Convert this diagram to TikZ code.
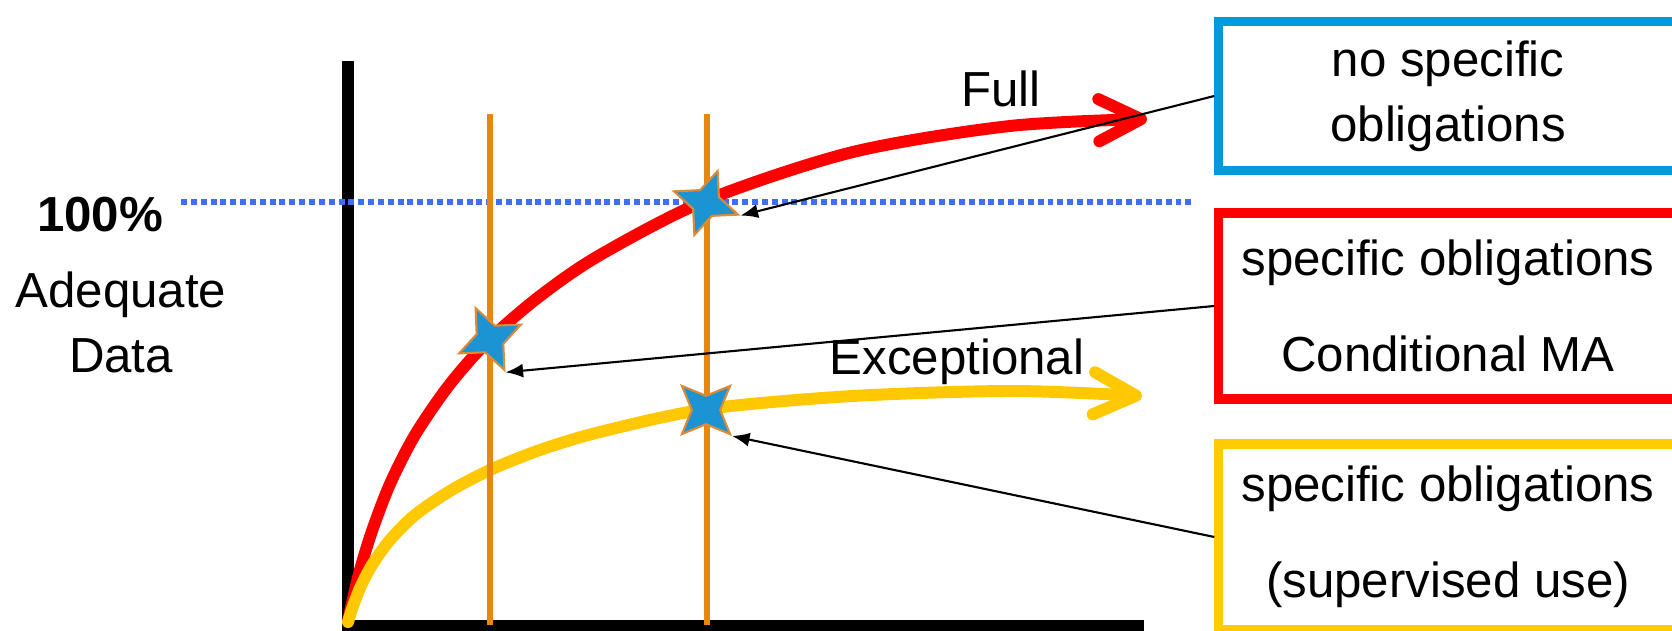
\documentclass[tikz,border=0pt]{standalone}
\usepackage{fontspec}
\setmainfont{Liberation Sans}
\usetikzlibrary{arrows.meta,shapes.geometric}
\definecolor{fullRed}{HTML}{FF0000}
\definecolor{excYellow}{HTML}{FFC800}
\definecolor{boxBlue}{HTML}{0099DA}
\definecolor{boxYellow}{HTML}{FFCC00}
\definecolor{guideOrange}{HTML}{E8870E}
\definecolor{starBlue}{HTML}{1C94D4}
\definecolor{starEdge}{HTML}{D98B3A}
\definecolor{levelBlue}{HTML}{3F6FF0}
\tikzset{
  oblig box/.style={draw,line width=2.6pt,minimum width=4.58cm,inner sep=0pt,
    align=center,font=\fontsize{14}{27.4}\selectfont},
  trend curve/.style={line width=3.4pt,line cap=round,
    -{Straight Barb[length=12pt,width=12pt,round]}},
  pointer arrow/.style={-{Latex[length=5pt,width=4pt]},draw=black,line width=0.6pt},
  marker star/.style={star,star points=4,star point ratio=2.4,minimum size=0.68cm,
    inner sep=0pt,draw=starEdge,fill=starBlue,line width=0.6pt},
  guide line/.style={draw=guideOrange,line width=1.7pt},
  axis line/.style={draw=black,line width=3.4pt},
  label text/.style={font=\fontsize{14}{18.5}\selectfont}
}
\begin{document}
\begin{tikzpicture}[x=0.01cm,y=-0.01cm]
  \useasboundingbox (0,0) rectangle (1672,631);
  \clip (0,0) rectangle (1672,631);
  % axes
  \draw[axis line] (348,61) |- (1144,626);
  % 100% level
  \draw[levelBlue,line width=1.7pt,dash pattern=on 1.7pt off 1.1pt]
    (181,202) -- (1194,202);
  % curves
  \draw[trend curve,fullRed] plot[smooth] coordinates {(348,622) (352,603)
    (360,570) (372,531) (390,484) (415,435) (450,384) (490,339) (540,296)
    (600,255) (707,200) (853,152) (1010,126) (1147,119)};
  \draw[trend curve,excYellow] plot[smooth] coordinates {(348,622) (352,609)
    (360,588) (372,565) (390,540) (415,515) (450,491) (490,470) (540,450)
    (600,432) (707,409) (853,396) (1013,391) (1142,396)};
  % vertical markers
  \draw[guide line] (490,114) -- (490,625);
  \draw[guide line] (707,114) -- (707,625);
  \node[marker star,rotate=25] (st1) at (490,339) {};
  \node[marker star,rotate=-20] (st2) at (706,203) {};
  \node[marker star,rotate=45] (st3) at (706,410) {};
  % labels
  \node[label text,anchor=base] (full) at (1001,107) {Full};
  \node[label text,anchor=base] (exc) at (957,375) {Exceptional};
  \node[anchor=base,font=\fontsize{14}{18.5}\selectfont\bfseries]
    (pct) at (100,232) {100\%};
  \node[label text,align=center] (adq) at (121,322) {Adequate\\Data};
  % obligation boxes
  \node[oblig box,draw=boxBlue,minimum height=1.49cm,
    font=\fontsize{14}{18.4}\selectfont] (nospec) at (1448,96)
    {no specific\\obligations};
  \node[oblig box,draw=fullRed,minimum height=1.86cm] (condma) at (1448,306)
    {specific obligations\\Conditional MA};
  \node[oblig box,draw=boxYellow,minimum height=1.86cm] (superv) at (1448,537)
    {specific obligations\\(supervised use)};
  \draw[pointer arrow] (nospec.west) -- (st2.outer point 4);
  \draw[pointer arrow] (condma.west) -- (st1.outer point 3);
  \draw[pointer arrow] (superv.west) -- (st3.outer point 3);
\end{tikzpicture}
\end{document}
